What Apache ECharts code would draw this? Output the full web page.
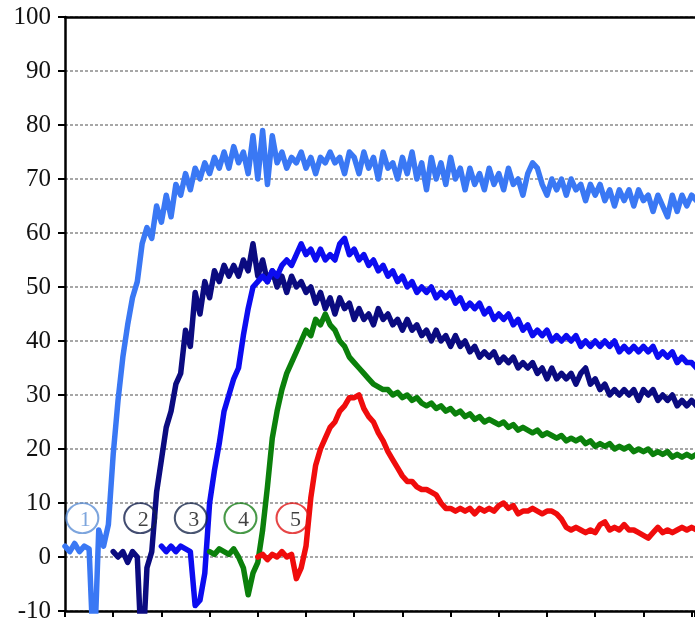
<!DOCTYPE html>
<html>
<head>
<meta charset="utf-8">
<script src="https://cdn.jsdelivr.net/npm/echarts@6/dist/echarts.min.js"></script>
<style>html,body{margin:0;padding:0;background:#fff}#c{width:695px;height:625px}</style>
</head>
<body>
<div id="c"></div>
<script>
// x in axis-tick units, sampled every STEP starting at each series' start
const STEP = 0.1;
const start1 = 0, start2 = 1, start3 = 2, start4 = 3, start5 = 4;
const yTicks = [-10, 0, 10, 20, 30, 40, 50, 60, 70, 80, 90, 100];
const xMax = 13.07;

const s1 = [2,1,2.5,1,2,1.5,-20,5,2,6,19,29,37,43,48,51,58,61,59,65,62,67,63,69,67,71,68,72,70,73,71,74,72,75,72,76,73,75,71,78,70,79,69,78,73,75,72,74,73,75,72,74,71,74,73,75,73,74,71,75,
  74,71,75,72,74,70,75,72,73,70,74,71,75,70,73,68,74,70,73,69,74,70,72,68,72,69,71,68,72,69,71,68,72,69,70,67,71,73,72,69,67,70,68,70,67,70,68,69,66,69,67,69,66,68,65,68,66,68,65,68,66,67,64,67,65,63,67,64,67,65,67,66];
const s2 = [1,0,1,-1,1,0,-20,-2,1,12,18,24,27,32,34,42,39,49,45,51,48,53,51,54,52,54,52,55,53,58,52,55,51,53,50,52,49,52,50,51,49,50,47,49,46,48,45,48,46,47,44,46,44,45,43,46,44,45,43,44,42,44,42,43,41,42,40,42,40,41,39,41,39,40,38,39,37,38,37,38,36,37,36,37,35,36,35,36,34,35,33,35,33,34,33,34,32,34,35,32,33,31,32,30,31,30,31,30,31,29,31,30,31,29,30,29,30,28,29,28,29,28];
const s3 = [2,1,2,1,2,1.5,1,-9,-8,-3,10,16,21,27,30,33,35,41,46,50,51,52,51,53,52,54,55,54,56,58,56,57,55,57,55,56,55,58,59,56,57,55,56,54,55,53,54,52,53,51,52,50,51,49,50,49,50,48,49,48,49,47,48,46,47,46,47,45,46,44,45,44,45,43,44,42,43,41,42,41,42,40,41,40,41,40,41,39,40,39,40,39,40,39,40,38,39,38,39,38,39,38,39,37,38,37,38,36,37,36,36,35];
const s4 = [1,0.5,1.5,1,0.5,1.5,0,-2,-7,-3,-1,5,13,22,27,31,34,36,38,40,42,41,44,43,45,43,42,40,39,37,36,35,34,33,32,31.5,31,31,30,30.5,29.5,30,29,29.5,28.5,28,28.5,27.5,28,27,27.5,26.5,27,26,26.5,25.5,26,25,25.5,25,24.5,25,24,24.5,23.5,24,23.5,23,23.5,22.5,23,22.5,22,22.5,21.5,22,21.5,22,21,21.5,20.5,21,20.5,21,20,20.5,20,20.5,19.5,20,19.5,20,19,19.5,19,19.5,18.5,19,18.5,19,18.5,19];
const s5 = [0,0.5,-0.5,0.5,0,1,0,0.5,-4,-2,2,11,17,20,22,24,25,27,28,29.5,29.5,30,27.5,26,25,23,21.5,19.5,18,16.5,15,14,14,13,12.5,12.5,12,11.5,10,9,9,8.5,9,8.5,9,8,9,8.5,9,8.5,9.5,10,9,9.5,8,8.5,8.5,9,8.5,8,8.5,8.5,8,7,5.5,5,5.5,5,4.5,5,4.5,6,6.5,5,5.5,5,6,5,5,4.5,4,3.5,4.5,5.5,4.5,5,4.5,5,5.5,5,5.5,5];

const tagNames = ['1', '2', '3', '4', '5'];
const tagX = [0.36, 1.56, 2.61, 3.64, 4.72];
const tagY = [7.2, 7.2, 7.2, 7.2, 7.2];

const lineColors = ['#3a78f4', '#0b0b80', '#0c0cf0', '#0b800b', '#f00c0c'];
const tagColors = ['#5c8fd4', '#14204e', '#1c2a4e', '#1a801a', '#e01818'];
const tagTextColors = ['#5c8fd4', '#111', '#111', '#111', '#111'];

function pairs(start, vals) {
  return vals.map((v, i) => [+(start + i * STEP).toFixed(3), v]);
}

const chart = echarts.init(document.getElementById('c'), null, {renderer: 'canvas'});
const seriesVals = [[start1, s1], [start2, s2], [start3, s3], [start4, s4], [start5, s5]];
const series = seriesVals.map((sv, k) => ({
  type: 'line',
  data: pairs(sv[0], sv[1]),
  showSymbol: false,
  symbol: 'none',
  clip: true,
  lineStyle: {color: lineColors[k], width: 5.5, join: 'round', cap: 'round'},
  z: 2 + k
}));
series.push({
  type: 'scatter',
  data: tagNames.map((n, i) => ({
    value: [tagX[i], tagY[i]],
    name: n,
    itemStyle: {color: 'rgba(0,0,0,0)', borderColor: tagColors[i], borderWidth: 2},
    label: {color: tagTextColors[i]}
  })),
  symbol: 'circle',
  symbolSize: [32, 30],
  z: 10,
  label: {
    show: true, position: 'inside', formatter: p => p.name,
    fontFamily: 'Liberation Serif', fontSize: 22, offset: [3, 2]
  }
});

chart.setOption({
  animation: false,
  backgroundColor: '#fff',
  grid: {left: 65, top: 17, bottom: 14, right: 0},
  xAxis: [{
    type: 'value', min: 0, max: xMax, interval: 1,
    axisLine: {show: true, onZero: false, lineStyle: {color: '#000', width: 2.5}},
    axisTick: {show: true, inside: false, length: 6, lineStyle: {color: '#000', width: 2}},
    axisLabel: {show: false},
    splitLine: {show: false}
  }, {
    type: 'value', min: 0, max: xMax, position: 'top',
    axisLine: {show: true, onZero: false, lineStyle: {color: '#000', width: 2.5}},
    axisTick: {show: false}, axisLabel: {show: false}, splitLine: {show: false}
  }],
  yAxis: {
    type: 'value', min: yTicks[0], max: yTicks[yTicks.length - 1], interval: 10,
    axisLine: {show: true, onZero: false, lineStyle: {color: '#000', width: 2.5}},
    axisTick: {show: true, inside: false, length: 7, lineStyle: {color: '#000', width: 2}},
    axisLabel: {fontFamily: 'Liberation Serif', fontSize: 25, color: '#111', margin: 14},
    splitLine: {show: true, lineStyle: {color: '#8a8a8a', width: 1.5, type: [3, 2]}}
  },
  series: series
});
</script>
</body>
</html>
